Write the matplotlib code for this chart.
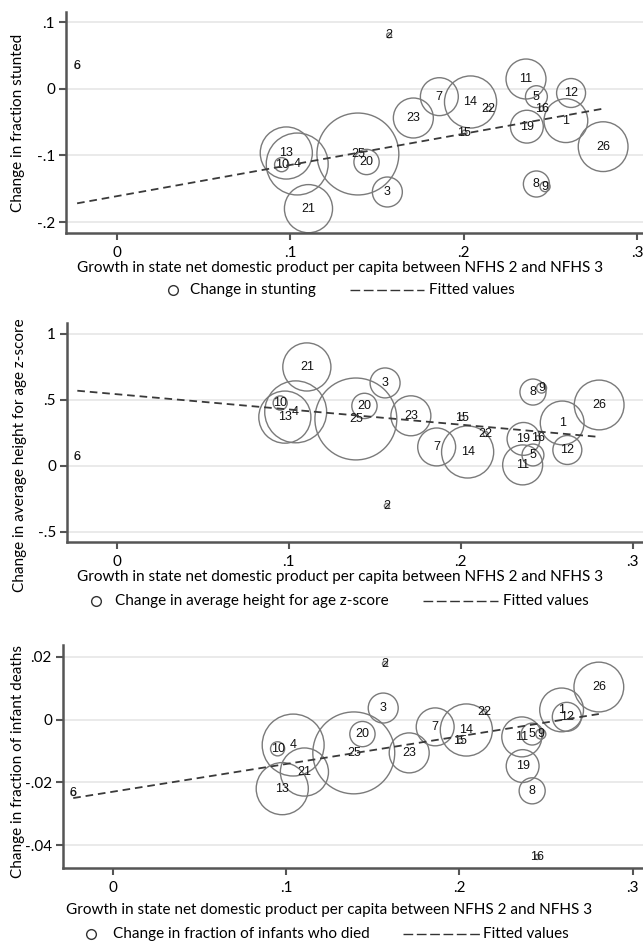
# Weighted bubble plots: state growth vs change in child outcomes (NFHS 2 -> NFHS 3)

import matplotlib
matplotlib.use('Agg')
import matplotlib.pyplot as plt
from matplotlib.lines import Line2D

plt.rcParams['lines.scale_dashes'] = False

# --- Data ---
states = [1, 2, 3, 4, 5, 6, 7, 8, 9, 10, 11, 12, 13, 14, 15, 16, 19, 20, 21, 22, 23, 25, 26]

growth = [0.259, 0.157, 0.156, 0.104, 0.242, -0.023, 0.186, 0.242, 0.247, 0.095, 0.236, 0.262,
          0.0977, 0.204, 0.2005, 0.245, 0.2365, 0.144, 0.1105, 0.2145, 0.171, 0.139, 0.2805]

# state population weights (millions, approx.) -> bubble area
population = [48, 0.6, 22.5, 96, 12, 0.6, 36, 17, 2.5, 5, 40, 21,
              68, 68, 0.6, 0.6, 27, 16, 58, 0.6, 40, 168, 62]

stunting_change = [-0.048, 0.080, -0.155, -0.113, -0.012, 0.034, -0.012, -0.143, -0.147, -0.114, 0.0145, -0.0065,
                   -0.0965, -0.020, -0.066, -0.030, -0.057, -0.110, -0.180, -0.030, -0.044, -0.098, -0.087]

haz_change = [0.326, -0.303, 0.629, 0.41, 0.083, 0.068, 0.144, 0.56, 0.59, 0.477, 0.008, 0.121,
              0.37, 0.106, 0.364, 0.212, 0.205, 0.455, 0.75, 0.242, 0.38, 0.356, 0.462]

infant_change = [0.0031, 0.0178, 0.0037, -0.0081, -0.0046, -0.0234, -0.0023, -0.0227, -0.0046, -0.0093, -0.0055, 0.0009,
                 -0.0220, -0.0033, -0.0068, -0.0438, -0.0148, -0.0046, -0.0167, 0.0025, -0.0106, -0.0106, 0.0104]

# fitted (weighted OLS) line end points
fit_x = [-0.023, 0.2805]
fit_stunting = [-0.172, -0.030]
fit_haz = [0.57, 0.22]
fit_infant = [-0.025, 0.0018]

x_ticks = [0, 0.1, 0.2, 0.3]
x_tick_labels = ['0', '.1', '.2', '.3']

panels = [
    {'y': stunting_change, 'fit': fit_stunting,
     'yticks': [-0.2, -0.1, 0, 0.1], 'yticklabels': ['-.2', '-.1', '0', '.1'],
     'ylabel': 'Change in fraction stunted', 'legend': 'Change in stunting'},
    {'y': haz_change, 'fit': fit_haz,
     'yticks': [-0.5, 0, 0.5, 1], 'yticklabels': ['-.5', '0', '.5', '1'],
     'ylabel': 'Change in average height for age z-score', 'legend': 'Change in average height for age z-score'},
    {'y': infant_change, 'fit': fit_infant,
     'yticks': [-0.04, -0.02, 0, 0.02], 'yticklabels': ['-.04', '-.02', '0', '.02'],
     'ylabel': 'Change in fraction of infant deaths', 'legend': 'Change in fraction of infants who died'},
]

# --- Layout (pixels of a 643 x 944 canvas) ---
W, H = 643, 944
axes_px = [(66, 12, 643, 233), (67, 323, 643, 542), (63, 645, 643, 868)]  # left, top, right, bottom
xlims = [(-0.0294, 0.3035), (-0.029, 0.306), (-0.0289, 0.306)]
ylims = [(-0.2165, 0.115), (-0.576, 1.083), (-0.0473, 0.0238)]
ylabel_pos = [(18, 123), (20, 455), (18, 762)]
xlabel_pos = [(340, 268), (340, 577), (329, 910)]
legend_pos = [  # circle x, text x, dash x0, dash x1, fitted text x, y
    (173, 190, 350, 424, 429, 290),
    (96, 115, 423, 498, 503, 601),
    (91, 113, 403, 480, 483, 934),
]

axis_color = '#555555'
bubble_color = '#7a7a7a'
text_font = ['Lato', 'DejaVu Sans']
label_font = ['Liberation Sans', 'DejaVu Sans']
size_scale = 20.7  # points^2 per million
fs = 11

fig = plt.figure(figsize=(W / 100, H / 100), dpi=100)

for p, (l, t, r, b) in enumerate(axes_px):
    panel = panels[p]
    ax = fig.add_axes([l / W, 1 - b / H, (r - l) / W, (b - t) / H])

    # gridlines at y ticks
    for yt in panel['yticks']:
        ax.axhline(yt, color='#e6e6e6', lw=1.2, zorder=0)

    ax.scatter(growth, panel['y'], s=[size_scale * w for w in population],
               facecolors='none', edgecolors=bubble_color, linewidths=1.0, zorder=2)

    for s, gx, gy in zip(states, growth, panel['y']):
        ax.text(gx, gy, str(s), ha='center', va='center', fontsize=9,
                family=label_font, color='#111111', zorder=3)

    ax.plot(fit_x, panel['fit'], color='#3a3a3a', lw=1.3, dashes=(5.5, 3.5), zorder=4)

    ax.set_xlim(*xlims[p])
    ax.set_ylim(*ylims[p])
    ax.set_xticks(x_ticks)
    ax.set_xticklabels(x_tick_labels, family=text_font, fontsize=fs)
    ax.set_yticks(panel['yticks'])
    ax.set_yticklabels(panel['yticklabels'], family=text_font, fontsize=fs)
    ax.tick_params(axis='both', direction='out', length=5, width=1.5, color=axis_color, pad=3)
    ax.tick_params(axis='x', pad=4)
    for side in ['top', 'right']:
        ax.spines[side].set_visible(False)
    for side in ['left', 'bottom']:
        ax.spines[side].set_color(axis_color)
        ax.spines[side].set_linewidth(1.8)
    ax.patch.set_alpha(0)

    # axis titles
    yx, yy = ylabel_pos[p]
    fig.text(yx / W, 1 - yy / H, panel['ylabel'], rotation=90, ha='center', va='center',
             family=text_font, fontsize=fs)
    xx, xy = xlabel_pos[p]
    fig.text(xx / W, 1 - xy / H, 'Growth in state net domestic product per capita between NFHS 2 and NFHS 3',
             ha='center', va='center', family=text_font, fontsize=fs)

    # legend row
    cx, tx, d0, d1, fx, ly = legend_pos[p]
    fig.add_artist(Line2D([cx / W], [1 - ly / H], marker='o', markersize=7, markerfacecolor='none',
                          markeredgecolor='#333333', markeredgewidth=1.0, linestyle='none'))
    fig.text(tx / W, 1 - ly / H, panel['legend'], ha='left', va='center', family=text_font, fontsize=fs)
    fig.add_artist(Line2D([d0 / W, d1 / W], [1 - ly / H, 1 - ly / H], color='#333333', lw=1.0,
                          linestyle=(0, (7, 2.6))))
    fig.text(fx / W, 1 - ly / H, 'Fitted values', ha='left', va='center', family=text_font, fontsize=fs)

plt.savefig('out.png', dpi=100)
plt.close()
